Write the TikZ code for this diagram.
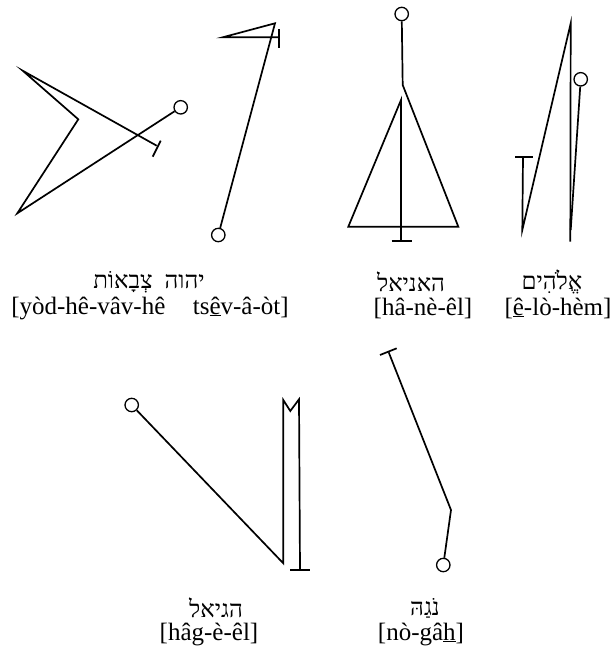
\documentclass[tikz,border=0pt]{standalone}
\usepackage{fontspec}
\setmainfont{Liberation Serif}
\newfontfamily\hebfont[Script=Hebrew]{Liberation Serif}
\TeXXeTstate=1
\begin{document}
\begin{tikzpicture}[x=1pt,y=-1pt,
  sig/.style={line width=1.7pt},
  barline/.style={line width=1.7pt},
  ring/.style={draw, circle, line width=1.3pt, minimum size=13.4pt, inner sep=0pt},
  heb/.style={font=\hebfont\fontsize{24}{26}\selectfont, inner sep=0pt},
  tr/.style={font=\fontsize{25}{28}\selectfont, inner sep=0pt}]
\useasboundingbox (0,0) rectangle (612,653);
% ---------- Sigil 1 ----------
\node[ring] (c1) at (180.7,107.3) {};
\coordinate (a1) at (17.3,213.3);
\coordinate (a2) at (78.3,119.3);
\coordinate (a3) at (22.7,70.7);
\coordinate (a4) at (156.7,145.7);
\coordinate (b1) at (152.7,156.7);
\coordinate (b2) at (160.7,140.7);
\draw[sig] (c1) -- (a1) -- (a2) -- (a3) -- (a4);
\draw[barline] (b1) -- (b2);
% ---------- Sigil 2 ----------
\node[ring] (c2) at (218.3,235) {};
\coordinate (d0) at (279.3,37.3);
\coordinate (d1) at (222.7,37.3);
\coordinate (d2) at (275,23.3);
\coordinate (e1) at (279.3,29.3);
\coordinate (e2) at (279.3,48.3);
\draw[sig] (d0) -- (d1) -- (d2) -- (c2);
\draw[barline] (e1) -- (e2);
% ---------- Sigil 3 ----------
\node[ring] (c3) at (401.7,14) {};
\coordinate (f1) at (402.7,85);
\coordinate (f2) at (458.3,226.7);
\coordinate (f3) at (348.3,226.7);
\coordinate (f4) at (401,100);
\coordinate (f5) at (401,240.7);
\coordinate (g1) at (391.7,240.7);
\coordinate (g2) at (411.7,240.7);
\draw[sig] (c3) -- (f1) -- (f2) -- (f3) -- (f4) -- (f5);
\draw[barline] (g1) -- (g2);
% ---------- Sigil 4 ----------
\node[ring] (c4) at (580.7,79.3) {};
\coordinate (k1) at (523,156.7);
\coordinate (k2) at (522.3,230);
\coordinate (k3) at (570.7,23.3);
\coordinate (k4) at (570.3,241.7);
\coordinate (k5) at (570.7,230);
\coordinate (h1) at (515,156.7);
\coordinate (h2) at (533.3,156.7);
\draw[sig] (k1) -- (k2) -- (k3) -- (k4);
\draw[sig] (c4) -- (k5);
\draw[barline] (h1) -- (h2);
% ---------- Sigil 5 ----------
\node[ring] (c5) at (131.7,405) {};
\coordinate (m1) at (283.3,563.3);
\coordinate (m2) at (283.3,400);
\coordinate (m3) at (290.3,411);
\coordinate (m4) at (299,399.3);
\coordinate (m5) at (300,570);
\coordinate (n1) at (290,570);
\coordinate (n2) at (310,570);
\draw[sig] (c5) -- (m1) -- (m2) -- (m3) -- (m4) -- (m5);
\draw[barline] (n1) -- (n2);
% ---------- Sigil 6 ----------
\node[ring] (c6) at (443.3,565) {};
\coordinate (q1) at (388.7,352.3);
\coordinate (q2) at (451,510);
\coordinate (r1) at (380,355);
\coordinate (r2) at (396.7,348.3);
\draw[sig] (q1) -- (q2) -- (c6);
\draw[barline] (r1) -- (r2);
% ---------- Labels ----------
\node[heb] (h-yhvh) at (149,282) {\beginR יהוה\hspace{0.5em}צְבָאוֹת\endR};
\node[tr]  (t-yhvh) at (150,308) {[yòd-hê-vâv-hê\hspace{1.1em}ts\underline{ê}v-â-òt]};
\node[heb] (h-hanel) at (411,282) {\beginR האניאל\endR};
\node[tr]  (t-hanel) at (423,308) {[hâ-nè-êl]};
\node[heb] (h-elohim) at (552,282) {\beginR אֱלֹהִים\endR};
\node[tr]  (t-elohim) at (558,308) {[\underline{ê}-lò-hèm]};
\node[heb] (h-hagiel) at (216,608) {\beginR הגיאל\endR};
\node[tr]  (t-hagiel) at (209,634) {[hâg-è-êl]};
\node[heb] (h-nogah) at (425,608) {\beginR נֹגַהּ\endR};
\node[tr]  (t-nogah) at (421,634) {[nò-gâ\underline{h}]};
\end{tikzpicture}
\end{document}
